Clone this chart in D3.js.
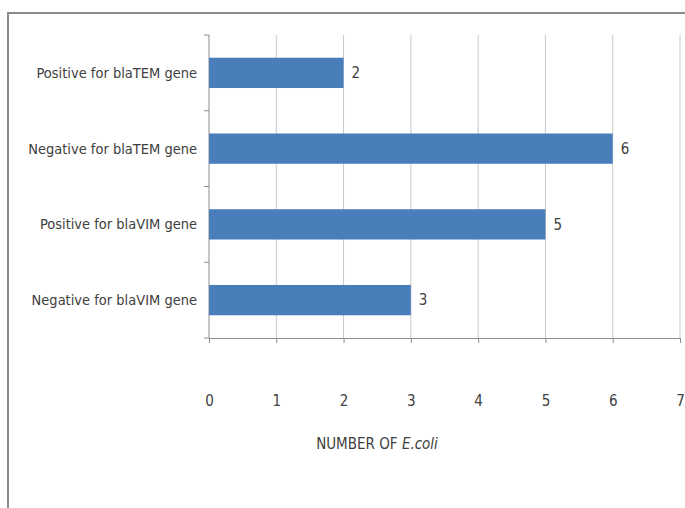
<!DOCTYPE html>
<html>
<head>
<meta charset="utf-8">
<script src="https://cdn.jsdelivr.net/npm/d3@7"></script>
<style>
  body { margin: 0; background: #fff; }
  text { font-family: "Liberation Sans Narrow", "DejaVu Sans Condensed", sans-serif; fill: #404040; }
</style>
</head>
<body>
<div id="plot"></div>
<script>
// categories, top to bottom
const categories = ["Positive for blaTEM gene", "Negative for blaTEM gene", "Positive for blaVIM gene", "Negative for blaVIM gene"];
const counts = [2, 6, 5, 3];
const xTicks = [0, 1, 2, 3, 4, 5, 6, 7];

const width = 685, height = 508;

const svg = d3.select("#plot")
  .append("svg")
    .attr("width", width)
    .attr("height", height);

// outer chart frame (only left and top edges show in the picture)
svg.append("path")
  .attr("d", `M8,${height} L8,13 L${width},13`)
  .attr("fill", "none")
  .attr("stroke", "#8a8a8a")
  .attr("stroke-width", 2);

const x = d3.scaleLinear()
  .domain([0, 7])
  .range([209, 680]);

const y = d3.scaleBand()
  .domain(categories)
  .range([35, 338])
  .paddingInner(0.6)
  .paddingOuter(0.3);

// gridlines
svg.append("g")
  .selectAll("line")
  .data(xTicks.slice(1))
  .join("line")
    .attr("x1", d => x(d)).attr("x2", d => x(d))
    .attr("y1", 35).attr("y2", 338)
    .attr("stroke", "#c8c8c8")
    .attr("stroke-width", 1);

// x axis
const xAxis = svg.append("g")
  .attr("transform", "translate(0,338)")
  .call(d3.axisBottom(x).tickValues(xTicks).tickFormat(d3.format("d")).tickSize(5).tickPadding(58));
xAxis.select(".domain").attr("stroke", "#8c8c8c");
xAxis.selectAll(".tick line").attr("stroke", "#8c8c8c");
xAxis.selectAll(".tick text")
  .attr("dy", "0.35em")
  .style("font-size", "15px")
  .style("fill", "#404040");

// y axis with ticks between categories
const yAxis = svg.append("g").attr("transform", "translate(209,0)");
yAxis.append("line")
  .attr("x1", 0).attr("x2", 0)
  .attr("y1", 35).attr("y2", 338)
  .attr("stroke", "#8c8c8c");
yAxis.selectAll("line.tk")
  .data(d3.range(categories.length + 1))
  .join("line")
    .attr("class", "tk")
    .attr("x1", -5).attr("x2", 0)
    .attr("y1", i => 35 + i * y.step())
    .attr("y2", i => 35 + i * y.step())
    .attr("stroke", "#8c8c8c");

yAxis.selectAll("text")
  .data(categories)
  .join("text")
    .attr("x", -12)
    .attr("y", d => y(d) + y.bandwidth() / 2)
    .attr("dy", "0.35em")
    .attr("text-anchor", "end")
    .style("font-size", "14.5px")
    .text(d => d);

// bars
svg.append("g")
  .selectAll("rect")
  .data(categories)
  .join("rect")
    .attr("x", x(0))
    .attr("y", d => y(d))
    .attr("width", (d, i) => x(counts[i]) - x(0))
    .attr("height", y.bandwidth())
    .attr("fill", "#4a7ebb");

// value labels
svg.append("g")
  .selectAll("text")
  .data(categories)
  .join("text")
    .attr("x", (d, i) => x(counts[i]) + 8)
    .attr("y", d => y(d) + y.bandwidth() / 2)
    .attr("dy", "0.35em")
    .style("font-size", "15px")
    .text((d, i) => counts[i]);

// axis title
const title = svg.append("text")
  .attr("x", 377)
  .attr("y", 449)
  .attr("text-anchor", "middle")
  .style("font-size", "15px");
title.append("tspan").text("NUMBER OF ");
title.append("tspan").style("font-style", "italic").text("E.coli");
</script>
</body>
</html>
